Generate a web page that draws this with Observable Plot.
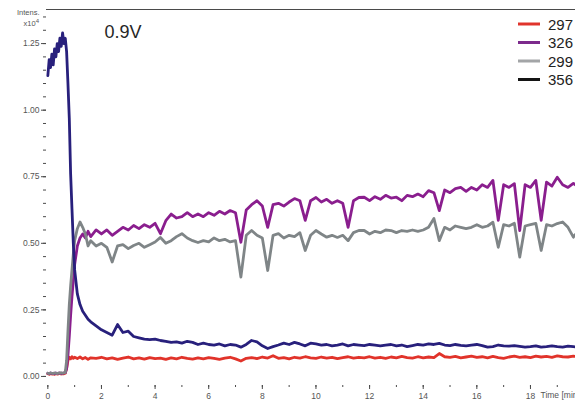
<!DOCTYPE html>
<html>
<head>
<meta charset="utf-8">
<script src="https://cdn.jsdelivr.net/npm/d3@7"></script>
<script src="https://cdn.jsdelivr.net/npm/@observablehq/plot@0.6"></script>
<style>
  html, body { margin: 0; padding: 0; background: #fff; }
  #chart { position: relative; width: 575px; height: 400px; overflow: hidden; }
  #chart svg { display: block; font-family: "Liberation Sans", Arial, sans-serif; }
</style>
</head>
<body>
<div id="chart"></div>
<script>
// Retention time grid (min): fine steps through the injection, then 0.2 min
const minutes = [
  0, 0.05, 0.1, 0.15, 0.2, 0.25, 0.3, 0.35, 0.4, 0.45, 0.5, 0.55, 0.6, 0.65,
  0.7, 0.75, 0.8, 0.85, 0.9, 0.95, 1.0,
  1.1, 1.2, 1.3, 1.4, 1.5, 1.6,
  1.8, 2.0, 2.2, 2.4, 2.6, 2.8, 3.0, 3.2, 3.4, 3.6,
  3.8, 4.0, 4.2, 4.4, 4.6, 4.8, 5.0, 5.2, 5.4, 5.6,
  5.8, 6.0, 6.2, 6.4, 6.6, 6.8, 7.0, 7.2, 7.4, 7.6,
  7.8, 8.0, 8.2, 8.4, 8.6, 8.8, 9.0, 9.2, 9.4, 9.6,
  9.8, 10.0, 10.2, 10.4, 10.6, 10.8, 11.0, 11.2, 11.4, 11.6,
  11.8, 12.0, 12.2, 12.4, 12.6, 12.8, 13.0, 13.2, 13.4, 13.6,
  13.8, 14.0, 14.2, 14.4, 14.6, 14.8, 15.0, 15.2, 15.4, 15.6,
  15.8, 16.0, 16.2, 16.4, 16.6, 16.8, 17.0, 17.2, 17.4, 17.6,
  17.8, 18.0, 18.2, 18.4, 18.6, 18.8, 19.0, 19.2, 19.4, 19.6,
  19.8
];

// Extracted ion intensities (x10^4) for each m/z trace
const ion297 = [
  0.010, 0.008, 0.011, 0.009, 0.010, 0.008, 0.011, 0.009, 0.010, 0.012, 0.009, 0.011, 0.010, 0.012,
  0.03, 0.06, 0.072, 0.066, 0.074, 0.068, 0.072,
  0.067, 0.073, 0.066, 0.071, 0.064, 0.07,
  0.068, 0.072, 0.066, 0.07, 0.064, 0.069, 0.073, 0.066, 0.07, 0.065,
  0.071, 0.067, 0.069, 0.064, 0.07, 0.066, 0.072, 0.068, 0.065, 0.07,
  0.066, 0.071, 0.068, 0.064, 0.069, 0.072, 0.066, 0.058, 0.068, 0.071,
  0.067, 0.073, 0.069, 0.078, 0.068, 0.071, 0.066, 0.072, 0.069, 0.074,
  0.07, 0.068, 0.073, 0.069, 0.072, 0.067, 0.071, 0.074, 0.069, 0.072,
  0.07, 0.074, 0.069, 0.072, 0.068, 0.073, 0.07, 0.075, 0.071, 0.069,
  0.074, 0.07, 0.073, 0.071, 0.086, 0.074, 0.072, 0.075, 0.07, 0.073,
  0.076, 0.072, 0.074, 0.07, 0.075, 0.071, 0.068, 0.073, 0.076, 0.072,
  0.074, 0.071, 0.076, 0.073, 0.075, 0.072, 0.077, 0.074, 0.073, 0.076,
  0.075
];
const ion326 = [
  0.012, 0.010, 0.013, 0.011, 0.012, 0.010, 0.013, 0.011, 0.012, 0.013, 0.011, 0.012, 0.013, 0.014,
  0.03, 0.08, 0.15, 0.23, 0.30, 0.36, 0.42,
  0.49, 0.52, 0.535, 0.52, 0.545, 0.525,
  0.55, 0.535, 0.55, 0.53, 0.545, 0.56, 0.55, 0.567, 0.555, 0.57,
  0.56, 0.575, 0.536, 0.585, 0.61, 0.595, 0.6, 0.615, 0.6, 0.61,
  0.6, 0.615, 0.605, 0.62, 0.61, 0.623, 0.615, 0.504, 0.625, 0.645,
  0.66, 0.64, 0.56, 0.645, 0.65, 0.64, 0.655, 0.668, 0.66, 0.586,
  0.66, 0.672, 0.655, 0.665, 0.65, 0.66, 0.65, 0.56, 0.66, 0.672,
  0.673, 0.66, 0.675, 0.665, 0.68, 0.67, 0.673, 0.66, 0.68, 0.675,
  0.685, 0.675, 0.698, 0.69, 0.623, 0.7, 0.69, 0.705, 0.71, 0.695,
  0.71, 0.7, 0.72, 0.71, 0.736, 0.586, 0.72, 0.71, 0.724, 0.548,
  0.72, 0.71, 0.736, 0.586, 0.73, 0.715, 0.748, 0.72, 0.71, 0.725,
  0.71
];
const ion299 = [
  0.012, 0.011, 0.013, 0.012, 0.011, 0.013, 0.012, 0.011, 0.013, 0.012, 0.014, 0.012, 0.013, 0.015,
  0.06, 0.17, 0.27, 0.34, 0.40, 0.46, 0.51,
  0.555, 0.58, 0.56, 0.535, 0.49, 0.51,
  0.49, 0.50, 0.485, 0.43, 0.49, 0.495, 0.48, 0.492, 0.5, 0.485,
  0.495, 0.505, 0.522, 0.5, 0.51, 0.525, 0.536, 0.52, 0.51, 0.503,
  0.51, 0.505, 0.52, 0.51, 0.515, 0.505, 0.51, 0.373, 0.53, 0.548,
  0.53, 0.52, 0.398, 0.53, 0.536, 0.52, 0.53, 0.525, 0.54, 0.473,
  0.53, 0.548, 0.535, 0.523, 0.53, 0.522, 0.53, 0.51, 0.54, 0.548,
  0.548, 0.535, 0.545, 0.54, 0.55, 0.548, 0.54, 0.548, 0.545, 0.55,
  0.545, 0.55, 0.56, 0.593, 0.51, 0.56, 0.55, 0.565, 0.56, 0.555,
  0.56, 0.57, 0.56, 0.565, 0.579, 0.485, 0.57, 0.565, 0.575, 0.448,
  0.565, 0.57, 0.575, 0.473, 0.57, 0.565, 0.574, 0.58, 0.56, 0.523,
  0.55
];
const ion356 = [
  1.13, 1.19, 1.16, 1.21, 1.17, 1.23, 1.20, 1.25, 1.22, 1.27, 1.24, 1.29, 1.25, 1.27,
  1.22, 1.10, 0.97, 0.76, 0.63, 0.50, 0.40,
  0.31, 0.27, 0.245, 0.23, 0.215, 0.205,
  0.19, 0.175, 0.165, 0.155, 0.195, 0.165, 0.17, 0.15, 0.145, 0.14,
  0.138, 0.14, 0.135, 0.132, 0.128, 0.13, 0.125, 0.132, 0.128, 0.12,
  0.125, 0.12, 0.118, 0.122, 0.115, 0.12, 0.118, 0.11, 0.12, 0.135,
  0.13, 0.115, 0.105, 0.112, 0.118, 0.125, 0.12, 0.128, 0.122, 0.115,
  0.125, 0.122, 0.118, 0.12, 0.115, 0.118, 0.122, 0.115, 0.12, 0.118,
  0.116, 0.12, 0.118, 0.115, 0.118, 0.12, 0.115, 0.118, 0.112, 0.116,
  0.12, 0.118, 0.122, 0.12, 0.124, 0.118, 0.116, 0.12, 0.117, 0.115,
  0.118, 0.12, 0.116, 0.11, 0.112, 0.118, 0.115, 0.114, 0.116, 0.113,
  0.11, 0.112, 0.115, 0.11, 0.112, 0.115, 0.112, 0.11, 0.114, 0.112,
  0.11
];

// Legend entries
const legendLabels = ["297", "326", "299", "356"];
const legendColors = ["#e0342c", "#7c2a8c", "#a3a5a7", "#141414"];

// Axis ticks
const yMajor = [0, 0.25, 0.5, 0.75, 1.0, 1.25];
const yMinor = d3.range(0, 1.36, 0.05);
const xMajor = [0, 2, 4, 6, 8, 10, 12, 14, 16, 18];
const xMinor = d3.range(0, 20, 1);

const traces = [
  {values: ion297, color: "#e1332a"},
  {values: ion326, color: "#8a1e8e"},
  {values: ion299, color: "#7f8587"},
  {values: ion356, color: "#28207c"}
];

const lineMarks = traces.map(({values, color}) =>
  Plot.line(minutes.map((t, i) => ({t, v: values[i]})), {
    x: "t", y: "v", stroke: color, strokeWidth: 2.8,
    strokeLinejoin: "round", clip: true
  })
);

const axisColor = "#4a4a4a";

const chart = Plot.plot({
  width: 575,
  height: 400,
  marginLeft: 46,
  marginRight: 0,
  marginTop: 9,
  marginBottom: 15,
  style: {background: "#fff", color: "#444", fontSize: "8.5px", fontFamily: "Liberation Sans, Arial, sans-serif"},
  x: {domain: [-0.05, 19.68], label: null},
  y: {domain: [-0.034, 1.378], label: null},
  marks: [
    Plot.frame({anchor: "top", stroke: axisColor}),
    ...lineMarks,
    Plot.axisY(yMinor, {tickSize: 3, text: null, label: null, stroke: axisColor}),
    Plot.axisY(yMajor, {tickSize: 5, tickPadding: 2, tickFormat: d3.format(".2f"), stroke: axisColor, line: true, label: null, fill: "#555"}),
    Plot.axisX(xMinor, {tickSize: 2, text: null, label: null, stroke: axisColor}),
    Plot.axisX(xMajor, {tickSize: 4, tickPadding: 3, stroke: axisColor, line: true, label: null, fill: "#555"}),
    Plot.text(["Time [min]"], {frameAnchor: "bottom-left", lineAnchor: "middle", dx: 494, dy: 10, textAnchor: "start", fill: "#555", fontSize: 8.5}),
    Plot.text(["Intens."], {frameAnchor: "top-left", lineAnchor: "middle", dx: -7, dy: 3, textAnchor: "end", fill: "#555", fontSize: 7.5}),
    Plot.text(["0.9V"], {frameAnchor: "top-left", lineAnchor: "middle", dx: 58, dy: 23, textAnchor: "start", fill: "#262626", fontSize: 18})
  ]
});

document.getElementById("chart").appendChild(chart);

// Exponent label under "Intens." and the trace legend in the upper right
const svg = d3.select(chart);
const expo = svg.append("text")
  .attr("x", 39).attr("y", 26)
  .attr("text-anchor", "end")
  .attr("fill", "#555").attr("font-size", 7.5);
expo.append("tspan").text("x10");
expo.append("tspan").attr("dy", -3).attr("font-size", 6).text("4");

const legend = svg.append("g").attr("transform", "translate(518,24)");
legendLabels.forEach((label, i) => {
  const row = legend.append("g").attr("transform", `translate(0,${i * 18.5})`);
  row.append("line").attr("x1", 0).attr("x2", 22).attr("y1", 0).attr("y2", 0)
    .attr("stroke", legendColors[i]).attr("stroke-width", 3);
  row.append("text").attr("x", 30).attr("y", 5.5)
    .attr("text-anchor", "start")
    .attr("fill", "#222").attr("font-size", 15).text(label);
});
</script>
</body>
</html>
